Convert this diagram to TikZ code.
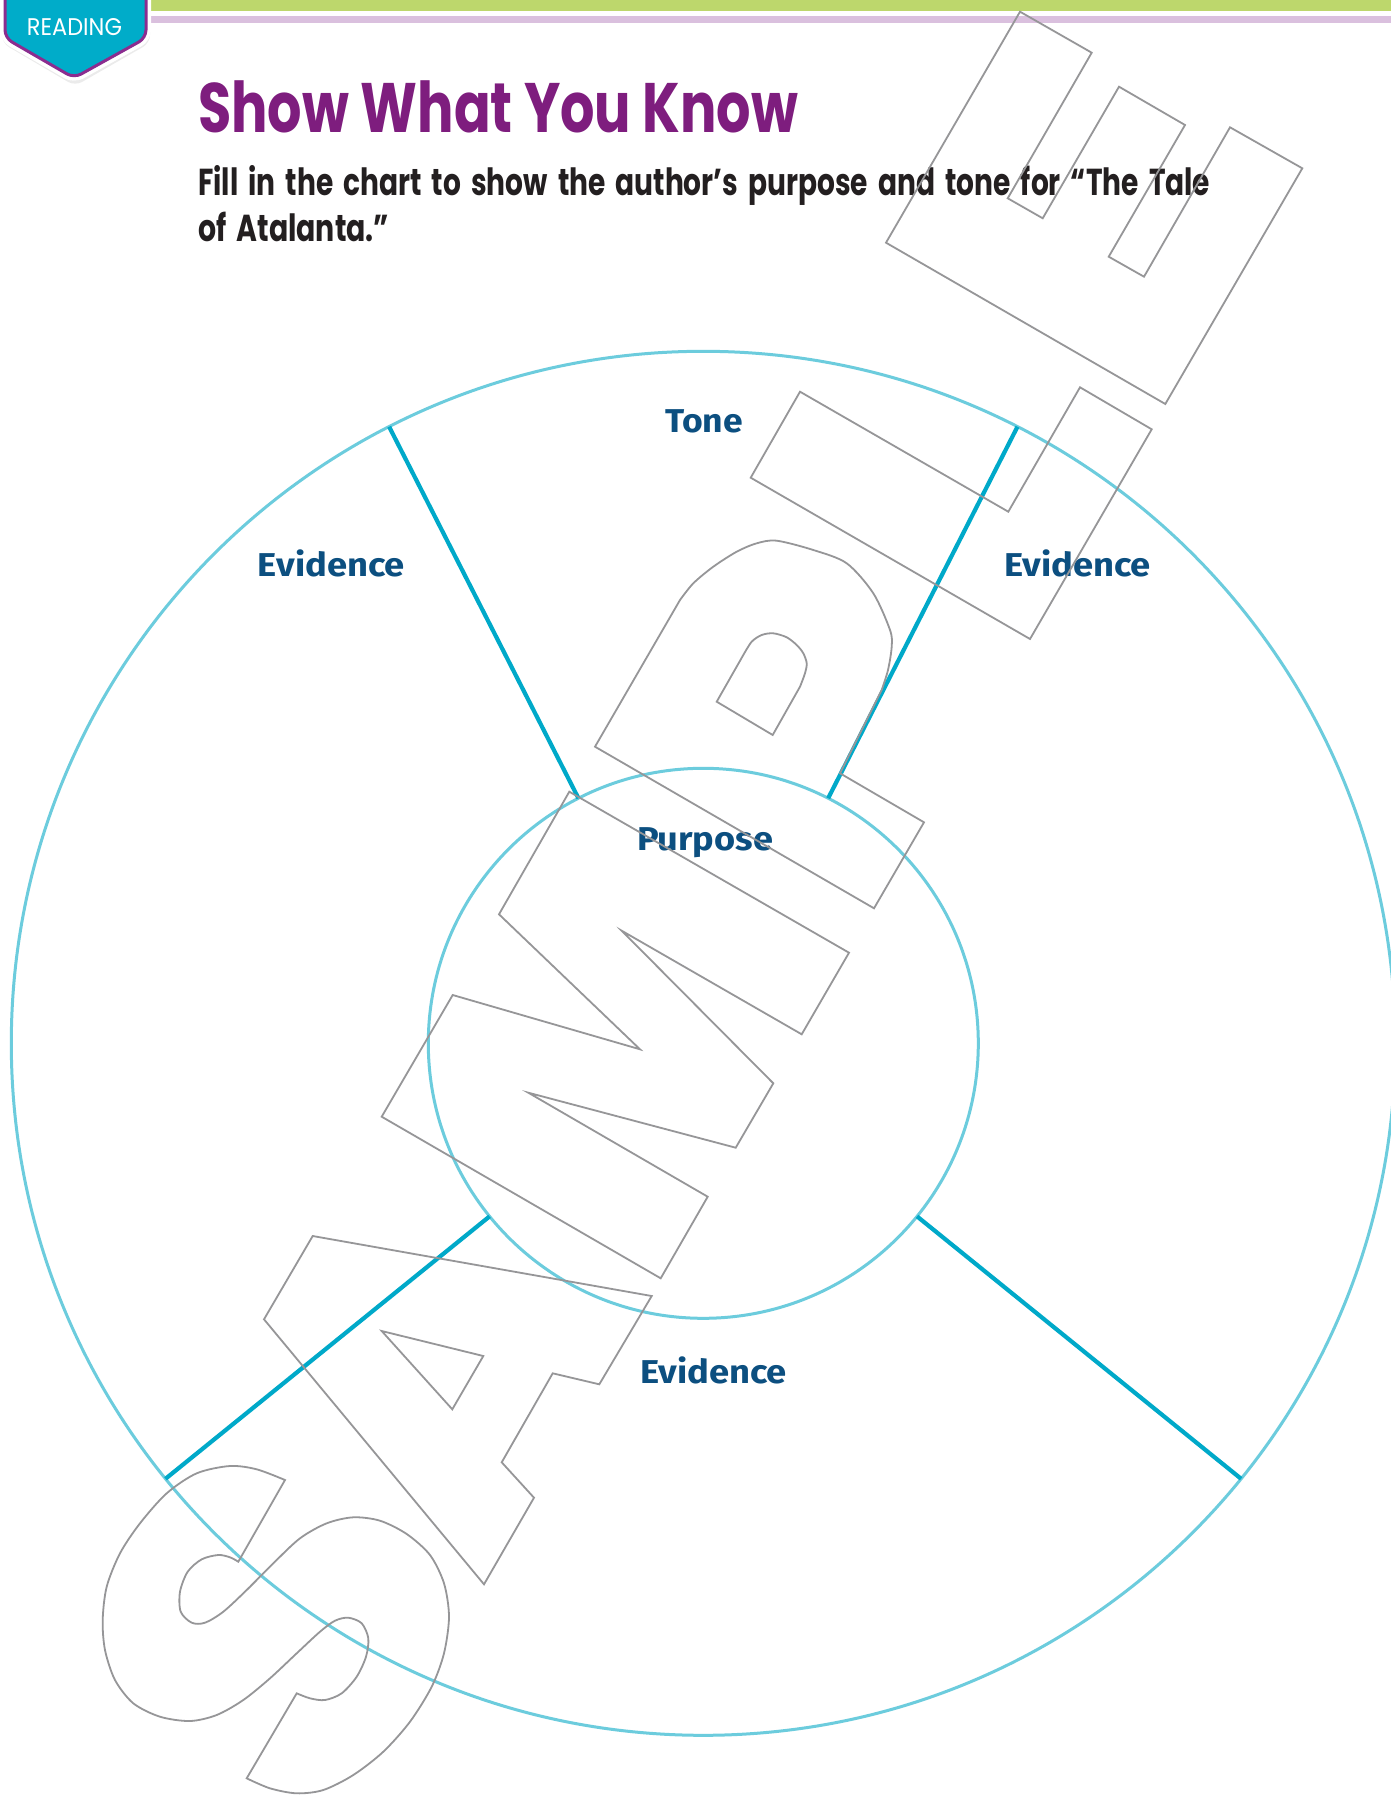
\documentclass[tikz,border=0pt]{standalone}
\usepackage{graphicx}
\usepackage{fontspec}
\newfontfamily\popfont{Poppins}
\newfontfamily\lblfont{Fira Sans}
\definecolor{barGreen}{RGB}{189,215,108}
\definecolor{barLav}{RGB}{218,192,222}
\definecolor{badgeCyan}{RGB}{0,172,201}
\definecolor{badgePurple}{RGB}{139,44,143}
\definecolor{titlePurple}{RGB}{126,29,126}
\definecolor{subBlack}{RGB}{35,31,32}
\definecolor{lblBlue}{RGB}{12,79,128}
\definecolor{ringCyan}{RGB}{108,204,221}
\definecolor{spokeCyan}{RGB}{0,169,201}
\definecolor{wmGray}{RGB}{150,150,152}
\tikzset{
  ring/.style={circle, draw=ringCyan, line width=3pt, inner sep=0pt, outer sep=0pt},
  spoke/.style={draw=spokeCyan, line width=4.2pt},
  lbl/.style={anchor=base, inner sep=0pt, text=lblBlue, font=\lblfont\bfseries\fontsize{33}{40}\selectfont},
  wm/.style={draw=wmGray, line width=1.8pt, line join=miter},
  badgeshape/.style={rounded corners=8pt}
}
\begin{document}
\begin{tikzpicture}[x=1pt,y=-1pt]
\useasboundingbox (0,0) rectangle (1391,1795);
\fill[white] (0,0) rectangle (1391,1795);
% top bars
\fill[barGreen] (0,0) rectangle (1391,11);
\fill[barLav] (0,16) rectangle (1391,23);
% badge
\fill[black, opacity=0.08] (2,-10) [badgeshape] -- (2,43) -- (75,86) -- (150,43) [sharp corners] -- (150,-10) -- cycle;
\fill[black, opacity=0.06] (4,-10) [badgeshape] -- (4,41) -- (75,83) -- (148,41) [sharp corners] -- (148,-10) -- cycle;
\draw[white, line width=10pt, fill=white] (5,-10) [badgeshape] -- (5,38) -- (74,78) -- (146,38) [sharp corners] -- (146,-10) -- cycle;
\filldraw[fill=badgeCyan, draw=badgePurple, line width=3pt] (5,-10) [badgeshape] -- (5,38) -- (74,78) -- (146,38) [sharp corners] -- (146,-10) -- cycle;
\node[anchor=base, inner sep=0pt, text=white] (badge) at (74.5,36) {\resizebox{95pt}{17pt}{\popfont READING}};
% title and instructions
\node[anchor=base west, inner sep=0pt, text=titlePurple] (title) at (198,133)
  {\resizebox{600pt}{\height}{\popfont\bfseries\fontsize{70}{84}\selectfont Show What You Know}};
\node[anchor=base west, inner sep=0pt, text=subBlack] (sub1) at (198,196)
  {\resizebox{1012pt}{\height}{\popfont\bfseries\fontsize{37.5}{46}\selectfont\spaceskip=0.36em Fill in the chart to show the author’s purpose and tone for “The Tale}};
\node[anchor=base west, inner sep=0pt, text=subBlack] (sub2) at (198,241)
  {\resizebox{191pt}{\height}{\popfont\bfseries\fontsize{37.5}{46}\selectfont\spaceskip=0.36em of Atalanta.”}};
% chart
\node[ring, minimum size=1384pt] (outer) at (703.3,1043.3) {};
\node[ring, minimum size=550pt] (inner) at (703.3,1043.3) {};
\draw[spoke] (inner.117.2) -- (outer.117.2);
\draw[spoke] (inner.63.2) -- (outer.63.2);
\draw[spoke] (inner.219.6) -- (outer.219.6);
\draw[spoke] (inner.321.1) -- (outer.321.1);
\node[lbl] (tone) at (704,432) {\resizebox{78pt}{\height}{Tone}};
\node[lbl] (evl) at (331.5,576) {\resizebox{147pt}{\height}{Evidence}};
\node[lbl] (evr) at (1077.5,576) {\resizebox{147pt}{\height}{Evidence}};
\node[lbl] (purpose) at (705,850) {\resizebox{136pt}{\height}{Purpose}};
\node[lbl] (evb) at (713.5,1383) {\resizebox{147pt}{\height}{Evidence}};
% SAMPLE watermark
% S
\draw[wm] (285,1480) -- (238.3,1561.7) -- plot[smooth] coordinates {(238.3,1561.7) (230,1557.3) (218.3,1555) (201.7,1559.3) (187.7,1571.7) (180,1591.7) (180.7,1611.7) (191.7,1622.7) (205,1622.7) (223.3,1611.7) (246.7,1590) (273.3,1563.3) (300,1538.3) (326.7,1523.3) (353.3,1517.3) (380,1520.7) (406.7,1534) (430,1555) (444,1583.3) (449,1616.7) (444,1653.3) (431.7,1686.7) (410,1721.7) (383.3,1751.7) (353.3,1775) (323.3,1790) (296.7,1793.3) (270,1788.3) (246.7,1778.3)}
  -- (296.7,1693.3) -- plot[smooth] coordinates {(296.7,1693.3) (310,1698.3) (325,1700) (341.7,1693.3) (356.7,1676.7) (366,1656.7) (368.3,1638.3) (361.7,1623.3) (348.3,1617.7) (335,1620.7) (320,1631.7) (296.7,1653.3) (270,1678.3) (243.3,1700) (216.7,1715) (190,1721) (160,1716.7) (133.3,1703.3) (115,1680) (105,1650) (102.7,1620) (106.7,1586.7) (120,1553.3) (140,1523.3) (166.7,1493.3) (196.7,1473.3) (230,1466) (256.7,1469.3) (285,1480)} -- cycle;
% A
\draw[wm] (312.7,1236) -- (651.7,1296) -- (599.3,1384.3) -- (552.7,1373.3) -- (501.7,1462.3) -- (534,1497.7) -- (484,1584.3) -- (264,1319.3) -- cycle;
\draw[wm] (381.7,1331) -- (483.3,1356) -- (452.3,1409.3) -- cycle;
% M
\draw[wm] (569.3,791.7) -- (849,952.7) -- (801.7,1034.3) -- (621.7,930.7) -- (773.3,1083.3) -- (735.7,1147.7) -- (528.3,1092.7) -- (707.7,1196.7) -- (660.7,1278.3) -- (381.7,1116.7) -- (452.7,995) -- (640,1049.3) -- (499,914.3) -- cycle;
% P
\draw[wm] (595,746.7) -- plot[smooth] coordinates {(680,600) (693.3,583.3) (713.3,566.7) (736.7,551.7) (756.7,543.3) (776.7,540.7) (813.3,550) (846.7,563.3) (873.3,593.3) (890,630) (891.7,646.7) (888,670) (881.7,690)} -- (840,773.3) -- (924,822.3) -- (874,908.3) -- cycle;
\draw[wm] (716.7,701.7) -- (772.7,735) -- plot[smooth] coordinates {(800,686.7) (805,673.3) (806.7,663.3) (803.3,653.3) (796.7,645) (786.7,637.3) (773.3,633.3) (761.7,635) (751.7,641.7) (743.3,655)} -- cycle;
% L
\draw[wm] (750.7,477.7) -- (800,391.7) -- (1008.3,511.7) -- (1080,387.3) -- (1151.7,429.3) -- (1030,639) -- cycle;
% E
\draw[wm] (1020,11.7) -- (1091.7,52.7) -- (1007.7,198.3) -- (1042.7,218.3) -- (1119,86.7) -- (1185,125) -- (1108.7,256.7) -- (1144,276.7) -- (1230,127.3) -- (1302.3,168.3) -- (1165.3,404) -- (886,242.7) -- cycle;
\end{tikzpicture}
\end{document}
